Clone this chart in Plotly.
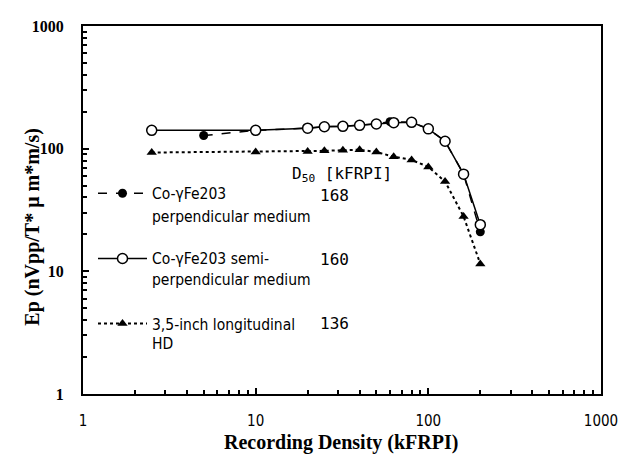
import plotly.graph_objects as go

# Data
x_open = [2.5, 10, 20, 25, 32, 40, 50, 63, 80, 100, 125, 160, 200]
y_open = [141, 141, 147, 151, 152, 155, 159, 163, 164, 145, 115, 62, 24]

x_fill = [5, 10, 20, 25, 32, 40, 50, 60, 80, 100, 125, 160, 200]
y_fill = [128, 141, 147, 151, 152, 155, 159, 166, 164, 145, 115, 62, 21]

x_tri = [2.5, 10, 20, 25, 32, 40, 50, 63, 80, 100, 125, 160, 200]
y_tri = [93, 94, 95, 96, 97, 98, 94, 86, 81, 71, 54, 28, 11.5]

names_line1 = ["Co-γFe203", "Co-γFe203 semi-", "3,5-inch longitudinal"]
names_line2 = ["perpendicular medium", "perpendicular medium", "HD"]
d50_values = ["168", "160", "136"]

x_tickvals = [1, 10, 100, 1000]
y_tickvals = [1, 10, 100, 1000]
minor_vals = [m * 10 ** e for e in range(0, 3) for m in range(2, 10)]

fig = go.Figure()

fig.add_trace(go.Scatter(
    x=x_tri, y=y_tri, mode="lines+markers", name=names_line1[2],
    legendgroup="c", legendrank=3,
    line=dict(color="black", width=2, dash="dot"),
    marker=dict(symbol="triangle-up", size=9, color="black"),
))
fig.add_trace(go.Scatter(
    x=x_fill, y=y_fill, mode="lines+markers", name=names_line1[0],
    legendgroup="a", legendrank=1,
    line=dict(color="black", width=1.5, dash="dash"),
    marker=dict(symbol="circle", size=9, color="black"),
))
fig.add_trace(go.Scatter(
    x=x_open, y=y_open, mode="lines+markers", name=names_line1[1],
    legendgroup="b", legendrank=2,
    line=dict(color="black", width=1.5),
    marker=dict(symbol="circle", size=10, color="white",
                line=dict(color="black", width=1.5)),
))

# The page body has an 8px margin, so the figure is 8px smaller and shifted.
OFF = 8
W, H = 633 - OFF, 456 - OFF
X0, X1, Y0, Y1 = 83, 601, 18, 394          # plot frame in screen pixels
L, T = X0 - OFF, Y0 - OFF
R, B = W - (X1 - OFF), H - (Y1 - OFF)
pw, ph = X1 - X0, Y1 - Y0

def px(xp):
    return (xp - X0) / pw

def py(yp):
    return (Y1 - yp) / ph

LEG_FONT = dict(family="DejaVu Sans Condensed, DejaVu Sans", size=15.5, color="black")

# second lines of the legend labels
for txt, yy in zip(names_line2, [213, 278, 343]):
    fig.add_annotation(text=txt, xref="paper", yref="paper", x=px(151), y=py(yy),
                       showarrow=False, xanchor="left", yanchor="middle",
                       borderpad=0, font=LEG_FONT)

annos = [
    dict(text="D<sub>50</sub> [kFRPI]", x=px(342), y=py(170)),
    dict(text=d50_values[0], x=px(334), y=py(191)),
    dict(text=d50_values[1], x=px(334), y=py(257)),
    dict(text=d50_values[2], x=px(334), y=py(322)),
]
for a in annos:
    fig.add_annotation(xref="paper", yref="paper", showarrow=False,
                       xanchor="center", yanchor="middle", borderpad=0,
                       font=dict(family="DejaVu Sans Mono", size=16, color="black"),
                       **a)

fig.add_annotation(text="Recording Density (kFRPI)", xref="paper", yref="paper",
                   x=px(341), y=py(444), showarrow=False,
                   xanchor="center", yanchor="middle",
                   font=dict(family="Liberation Serif", size=20, color="black", weight="bold"))
fig.add_annotation(text="Ep (nVpp/T* μ m*m/s)", xref="paper", yref="paper",
                   x=px(33), y=py(223), showarrow=False, textangle=-90,
                   xanchor="center", yanchor="middle",
                   font=dict(family="Liberation Serif", size=20, color="black", weight="bold"))

fig.update_layout(
    width=W, height=H,
    margin=dict(l=L, r=R, t=T, b=B),
    paper_bgcolor="white", plot_bgcolor="white",
    showlegend=True,
    legend=dict(x=px(93), y=py(172), xanchor="left", yanchor="top",
                traceorder="grouped", tracegroupgap=42, valign="middle",
                bgcolor="rgba(0,0,0,0)", itemwidth=49,
                font=LEG_FONT),
)

fig.update_xaxes(
    type="log", range=[0, 3],
    tickvals=x_tickvals, ticktext=[str(v) for v in x_tickvals],
    ticks="inside", ticklen=6, tickwidth=1.5, tickcolor="black",
    showline=True, linecolor="black", linewidth=2, mirror=True,
    showgrid=False, zeroline=False, ticklabelstandoff=12,
    tickfont=dict(family="DejaVu Sans Condensed, DejaVu Sans", size=15, color="black"),
    minor=dict(tickvals=minor_vals, ticks="inside", ticklen=4, tickwidth=1.5,
               tickcolor="black", showgrid=False),
)
fig.update_yaxes(
    type="log", range=[0, 3],
    tickvals=y_tickvals, ticktext=[str(v) for v in y_tickvals],
    ticks="inside", ticklen=6, tickwidth=1.5, tickcolor="black",
    showline=True, linecolor="black", linewidth=2, mirror=True,
    showgrid=False, zeroline=False, ticklabelstandoff=14,
    tickfont=dict(family="Liberation Serif", size=16, color="black", weight="bold"),
    minor=dict(tickvals=minor_vals, ticks="inside", ticklen=4, tickwidth=1.5,
               tickcolor="black", showgrid=False),
)

fig.write_html("out.html")
